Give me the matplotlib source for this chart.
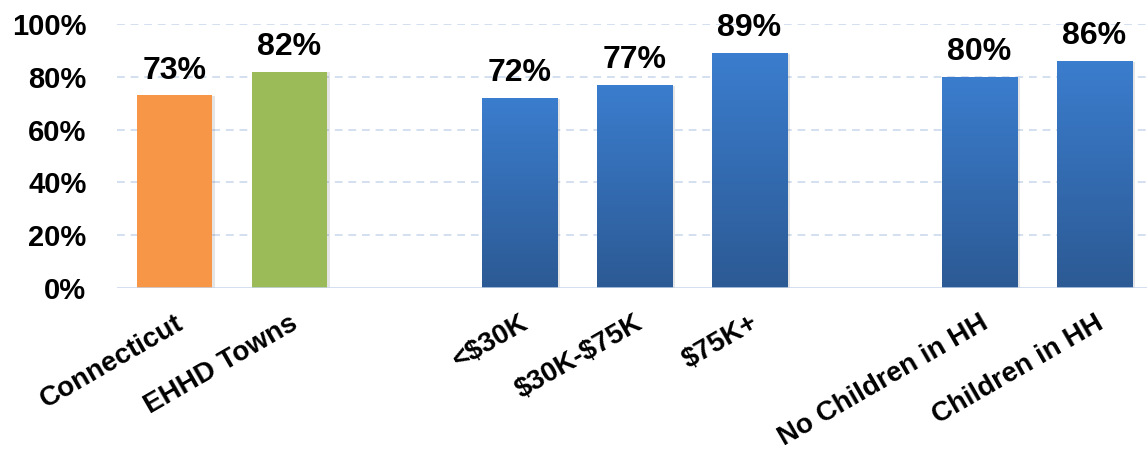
import numpy as np
import matplotlib
matplotlib.use("Agg")
import matplotlib.pyplot as plt
from matplotlib.colors import LinearSegmentedColormap

# ---- data ----
categories = ["Connecticut", "EHHD Towns", "", "<$30K", "$30K-$75K", "$75K+", "", "No Children in HH", "Children in HH"]
values = [73, 82, None, 72, 77, 89, None, 80, 86]
value_labels = ["73%", "82%", "", "72%", "77%", "89%", "", "80%", "86%"]
bar_kinds = ["orange", "green", None, "blue", "blue", "blue", None, "blue", "blue"]
yticks = [0, 20, 40, 60, 80, 100]
ytick_labels = ["0%", "20%", "40%", "60%", "80%", "100%"]

solid_colors = {"orange": "#F79646", "green": "#9BBB59"}
blue_top, blue_bottom = "#3B7DCE", "#2C5A94"

plt.rcParams['font.family'] = ['Liberation Sans', 'DejaVu Sans']

W, H = 1147, 451
fig = plt.figure(figsize=(W / 100, H / 100), dpi=100)
ax = fig.add_axes([117 / W, 1 - 288 / H, 1035 / W, 264 / H])

x = np.arange(len(categories))
width = 0.66
cmap = LinearSegmentedColormap.from_list("bl", [blue_bottom, blue_top])
grad = np.linspace(0, 1, 256).reshape(-1, 1)

for xi, v, kind, lab in zip(x, values, bar_kinds, value_labels):
    if v is None:
        continue
    # soft shadow
    ax.bar(xi + 0.02, v + 0.3, width, bottom=-0.6, color="#000000", alpha=0.10, zorder=2, linewidth=0)
    if kind == "blue":
        b = ax.bar(xi, v, width, color="none", linewidth=0, zorder=3)[0]
        im = ax.imshow(grad, cmap=cmap, origin="lower", aspect="auto",
                       extent=[xi - width / 2, xi + width / 2, 0, v], zorder=3)
        im.set_clip_path(b)
    else:
        ax.bar(xi, v, width, color=solid_colors[kind], linewidth=0, zorder=3)
    ax.annotate(lab, (xi, v), xytext=(0, 12), textcoords="offset points",
                ha="center", va="baseline", fontsize=23, fontweight="bold", color="#000000")

ax.set_xlim(-0.5, len(categories) - 0.5)
ax.set_ylim(0, 100)
ax.set_yticks(yticks)
ax.set_yticklabels(ytick_labels, fontsize=21, fontweight="bold")
for yv in yticks[1:]:
    ax.axhline(yv, color="#D3DFF0", linestyle=(0, (4, 3)), linewidth=1.4, zorder=1)
ax.axhline(0, color="#C6D5EA", linewidth=1.8, zorder=4)

ax.set_xticks(x)
ax.set_xticklabels(categories, rotation=30, ha="right", rotation_mode="anchor",
                   fontsize=20, fontweight="bold", parse_math=False)
ax.tick_params(axis="x", length=0, pad=16)
ax.tick_params(axis="y", length=0, pad=22)
for s in ax.spines.values():
    s.set_visible(False)

fig.savefig("out.png", dpi=100)
